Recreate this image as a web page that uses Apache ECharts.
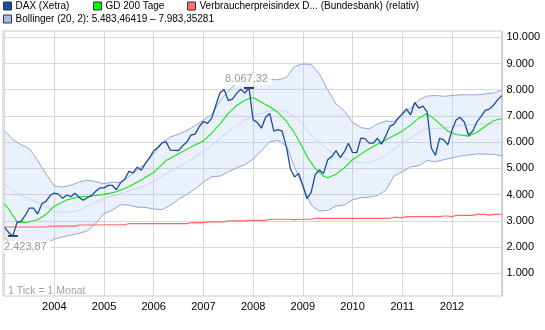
<!DOCTYPE html>
<html><head><meta charset="utf-8">
<script src="https://cdn.jsdelivr.net/npm/echarts@6/dist/echarts.min.js"></script>
<style>html,body{margin:0;padding:0;background:#fff}#c{width:545px;height:330px}</style>
</head><body><div id="c"></div>
<script>
// ---- data ----
const startYear = 2003; // first monthly point = Jan 2003
const yearLabels = [2004, 2005, 2006, 2007, 2008, 2009, 2010, 2011, 2012];
const yearGrid = [2003, 2004, 2005, 2006, 2007, 2008, 2009, 2010, 2011, 2012, 2013];
const yTicks = [1000, 2000, 3000, 4000, 5000, 6000, 7000, 8000, 9000, 10000];

const daxName = 'DAX (Xetra)';
const gdName = 'GD 200 Tage';
const vpiName = 'Verbraucherpreisindex D... (Bundesbank) (relativ)';
const bbName = 'Bollinger (20, 2): 5.483,46419 \u2013 7.983,35281';

// DAX monthly, Jan 2003 .. Jan 2013
const dax = [
 2747.83,2547.05,2423.87,2942.04,2982.68,3220.58,3487.86,3484.58,3256.78,3655.99,3745.95,3965.16,
 4058.60,4018.16,3856.70,3985.21,3921.41,4052.73,3895.61,3785.21,3892.90,3960.25,4126.00,4256.08,
 4254.85,4350.49,4348.77,4184.84,4460.63,4586.28,4886.50,4829.69,5044.12,4929.07,5193.40,5408.26,
 5674.15,5796.04,5970.08,6009.89,5692.86,5683.31,5681.97,5859.57,6004.33,6268.92,6309.19,6596.92,
 6789.11,6715.44,6917.03,7408.87,7883.04,8007.32,7584.14,7638.17,7861.51,8019.22,7870.52,8067.32,
 6851.75,6748.13,6534.97,6948.82,7096.79,6418.32,6479.56,6422.30,5831.02,4987.97,4669.44,4810.20,
 4338.35,3843.74,4084.76,4769.45,4940.82,4808.64,5332.14,5458.04,5675.16,5414.96,5625.95,5957.43,
 5608.79,5598.46,6153.55,6135.70,5964.33,5965.52,6147.97,5925.22,6229.02,6601.37,6688.49,6914.19,
 7077.48,7272.32,7041.31,7514.46,7293.69,7376.24,7158.77,5784.85,5502.02,6141.34,6088.84,5898.35,
 6458.91,6856.08,6946.83,6761.19,6264.38,6416.28,6772.26,6970.79,7216.15,7260.63,7405.50,7612.39,
 7776.05
];

// Verbraucherpreisindex (relative), monthly, same months as dax
const vpi = [
 2765,2765,2765,2765,2765,2765,2765,2765,2765,2765,2765,
 2800,2800,2800,2800,2800,2800,2800,
 2840,2840,2840,2840,2840,2840,
 2850,2850,2850,2850,2850,2850,
 2890,2890,2890,2890,2890,2890,2890,2890,2890,2890,2890,2890,2890,2890,2890,
 2930,2930,2930,2930,
 2960,2960,2960,2960,2960,
 2995,2995,2995,2995,2995,
 3020,3020,3020,3020,3020,
 3060,3060,3060,3060,3060,3060,
 3035,
 3060,3060,3060,3060,
 3097,3097,3097,3097,3097,3097,3097,3097,3097,3097,3097,3097,3097,3097,3097,3097,3097,3097,3097,
 3135,3135,
 3110,
 3158,3158,3158,3158,3158,3158,3158,3158,3158,
 3184,3184,
 3150,
 3211,3211,3211,3211,3211,
 3249,3249,3249,
 3215,
 3249,3249,3249
];

// GD 200 Tage, read at these month indices (0 = Jan 2003)
const gdIdx = [0,1,2,3,5,8,10,12,15,18,21,24,27,30,33,36,39,42,45,48,50,52,54,56,58,60,62,64,66,68,70,72,73,75,77,78,80,82,84,87,90,93,96,98,100,102,104,107,109,112,114,116,118,120];
const gdVal = [3640,3450,3200,2970,2930,3040,3250,3560,3793,3918,3945,4010,4110,4300,4560,4850,5300,5560,5820,6040,6350,6700,7100,7400,7600,7700,7520,7350,7130,6800,6350,5780,5450,5000,4700,4640,4780,5020,5330,5650,5920,6170,6420,6650,6920,7090,6850,6420,6290,6230,6380,6600,6820,6903];

// Bollinger bands (20, 2), at these month indices
const bbIdx = [0,2,4,6,8,10,12,14,16,18,20,22,24,26,28,30,32,34,36,38,40,42,44,46,48,50,52,54,56,58,60,62,64,66,68,70,72,74,76,78,80,82,84,86,88,90,92,94,96,98,100,102,104,106,110,114,118,120];
const bbUpper = [6430,6100,5900,5750,5300,4780,4330,4290,4360,4480,4550,4490,
 4416,4479,4462,4684,4948,5184,5562,5968,6202,6304,6444,6634,6842,7057,7571,7961,8249,8542,
 8643,8518,8402,8373,8473,8888,8987,8960,8597,8003,7456,7194,6750,6554,6514,6697,6806,6790,
 7058,7292,7612,7759,7779,7750,7806,7802,7875,7983];
const bbMiddle = [4400,4150,3950,3860,3700,3550,3360,3330,3330,3400,3560,3720,
 3844,3944,4039,4142,4235,4347,4506,4697,4898,5062,5230,5424,5661,5869,6140,6413,6634,6840,
 7001,7097,7206,7222,7165,6967,6659,6276,5987,5699,5510,5398,5274,5217,5209,5332,5482,5750,
 5964,6173,6357,6531,6517,6541,6639,6677,6704,6733];
const bbLower = [2370,2050,1770,1900,2050,2150,2300,2390,2450,2520,2620,2900,
 3272,3408,3616,3600,3522,3511,3450,3426,3594,3820,4015,4214,4479,4681,4708,4865,5019,5138,
 5359,5676,6010,6071,5857,5045,4331,3592,3377,3395,3564,3602,3798,3879,3904,3966,4158,4710,
 4870,5053,5101,5303,5255,5333,5471,5552,5533,5483];

// ---- helpers ----
const mx = i => startYear + i / 12;
const fmtDE = (v, d) => {
  const s = v.toFixed(d).split('.');
  const int = s[0].replace(/\B(?=(\d{3})+(?!\d))/g, '.');
  return d ? int + ',' + s[1] : int;
};
const daxData = dax.map((v, i) => [mx(i), v]);
const vpiData = vpi.map((v, i) => [mx(i), v]);
const gdData = gdIdx.map((ix, k) => [mx(ix), gdVal[k]]);
const upData = bbIdx.map((ix, k) => [mx(ix), bbUpper[k]]);
const midData = bbIdx.map((ix, k) => [mx(ix), bbMiddle[k]]);
const loData = bbIdx.map((ix, k) => [mx(ix), bbLower[k]]);

const maxV = Math.max(...dax), minV = Math.min(...dax);
const maxI = dax.indexOf(maxV), minI = dax.indexOf(minV);

const FONT = 'Liberation Sans, Arial, sans-serif';
const chart = echarts.init(document.getElementById('c'), null, {renderer: 'canvas'});

function lg(name, left, top, fill) {
  return {
    left: left, top: top, orient: 'horizontal', padding: 0, itemGap: 0,
    itemWidth: 8, itemHeight: 8, icon: 'rect', selectedMode: false,
    textStyle: {fontFamily: FONT, fontSize: 10, color: '#000', padding: [0, 0, 0, -1]},
    data: [{name: name, icon: 'rect', itemStyle: {color: fill, borderColor: '#333', borderWidth: 1}}]
  };
}

chart.setOption({
  animation: false,
  legend: [
    lg(daxName, 3, 1, '#1d4f9f'),
    lg(gdName, 93, 1, '#00ff00'),
    lg(vpiName, 187, 1, '#ff7070'),
    lg(bbName, 3, 14, '#a6bde8')
  ],
  grid: {left: 3, right: 42.5, top: 31, bottom: 34, show: true, borderColor: '#c8c8c8', borderWidth: 1},
  xAxis: {
    type: 'value', min: 2002.968, max: 2013.016,
    axisLine: {show: false},
    axisTick: {show: false, customValues: yearGrid},
    axisLabel: {customValues: yearLabels, formatter: v => String(v), color: '#000', fontFamily: FONT, fontSize: 11, margin: 5},
    splitLine: {show: true, lineStyle: {color: '#d8d8d8', width: 1}}
  },
  yAxis: {
    type: 'value', position: 'right', min: 133, max: 10240,
    axisLine: {show: false},
    axisTick: {show: false, customValues: yTicks},
    axisLabel: {customValues: yTicks, formatter: v => fmtDE(v, 0), color: '#000', fontFamily: FONT, fontSize: 11, margin: 4, align: 'left'},
    splitLine: {show: true, lineStyle: {color: '#d8d8d8', width: 1}}
  },
  graphic: [{
    type: 'text', left: 8, top: 285.5,
    style: {text: '1 Tick = 1 Monat', fill: '#a0a0a0', font: '10.5px ' + FONT}
  }],
  series: [
    {name: bbName, type: 'custom', data: [[bbIdx[0], 0]], z: 1, silent: true, clip: true,
     renderItem: (params, api) => {
       const pts = upData.map(p => api.coord(p)).concat(loData.slice().reverse().map(p => api.coord(p)));
       return {type: 'polygon', shape: {points: pts}, style: {fill: 'rgba(160,190,235,0.22)'}};
     }},
    {name: bbName, type: 'line', data: upData, symbol: 'none', lineStyle: {color: '#8ea7dc', width: 1}, z: 2},
    {name: bbName, type: 'line', data: loData, symbol: 'none', lineStyle: {color: '#8ea7dc', width: 1}, z: 2},
    {name: bbName, type: 'line', data: midData, symbol: 'none', lineStyle: {color: '#c3d5f5', width: 1}, z: 2},
    {name: vpiName, type: 'line', data: vpiData, symbol: 'none', lineStyle: {color: '#ff6464', width: 1.2}, z: 3},
    {name: gdName, type: 'line', data: gdData, symbol: 'none', lineStyle: {color: '#14e614', width: 1.1}, z: 4},
    {name: daxName, type: 'line', data: daxData, symbol: 'none', lineStyle: {color: '#1a4b9c', width: 1.3}, z: 5,
     markPoint: {
       symbol: 'rect', symbolSize: [10, 1.5], itemStyle: {color: '#000'}, silent: true,
       label: {show: true, position: 'inside', color: '#999', fontFamily: FONT, fontSize: 11,
               backgroundColor: 'rgba(255,255,255,0.8)', padding: [1, 4, 0, 1]},
       data: [
         {coord: [mx(maxI), maxV], label: {formatter: fmtDE(maxV, 2), offset: [-1, -9]}},
         {coord: [mx(minI), minV], label: {formatter: fmtDE(minV, 2), offset: [14, 11]}}
       ]
     }}
  ]
});
</script></body></html>
